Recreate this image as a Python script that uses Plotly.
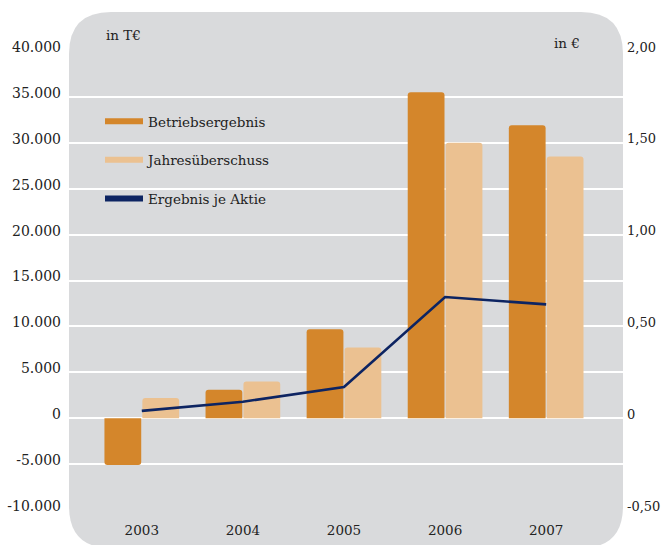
import plotly.graph_objects as go

years = ["2003", "2004", "2005", "2006", "2007"]
betriebsergebnis = [-5100, 3100, 9700, 35500, 31900]
jahresueberschuss = [2200, 4000, 7700, 30000, 28500]
ergebnis_je_aktie = [0.04, 0.09, 0.17, 0.66, 0.62]

left_ticks = [-10000, -5000, 0, 5000, 10000, 15000, 20000, 25000, 30000, 35000, 40000]
left_text = ["-10.000", "-5.000", "0", "5.000", "10.000", "15.000", "20.000",
             "25.000", "30.000", "35.000", "40.000"]
right_ticks = [-0.5, 0, 0.5, 1.0, 1.5, 2.0]
right_text = ["-0,50", "0", "0,50", "1,00", "1,50", "2,00"]

DARK = "#D4862B"
LIGHT = "#EBC191"
NAVY = "#0D2462"
PANEL = "#D9DADC"
FONT = "DejaVu Serif"

fig = go.Figure()
fig.add_trace(go.Bar(x=years, y=betriebsergebnis, marker_color=DARK,
                     marker_line_width=0, showlegend=False))
fig.add_trace(go.Bar(x=years, y=jahresueberschuss, marker_color=LIGHT,
                     marker_line_width=0, showlegend=False))
fig.add_trace(go.Scatter(x=years, y=ergebnis_je_aktie, yaxis="y2", mode="lines",
                         line=dict(color=NAVY, width=2.6, shape="linear"),
                         showlegend=False))

# legend entries drawn as line samples
for name, col in [("Betriebsergebnis", DARK), ("Jahresüberschuss", LIGHT),
                  ("Ergebnis je Aktie", NAVY)]:
    fig.add_trace(go.Scatter(x=[None], y=[None], mode="lines", name=name,
                             legendgroup=name,
                             line=dict(color=col, width=6)))

# rounded grey panel behind the plot
W, H = 665, 545
l, r, t, b = 69, 42, 51, 35
pw, ph = W - l - r, H - t - b


def px(x):
    return (x - l) / pw


def py(y):
    return (H - b - y) / ph


x0, x1, y0, y1, rad = 69, 623, 12, 548, 42
path = (f"M {px(x0)},{py(y0 + rad)} "
        f"Q {px(x0)},{py(y0)} {px(x0 + rad)},{py(y0)} "
        f"L {px(x1 - rad)},{py(y0)} "
        f"Q {px(x1)},{py(y0)} {px(x1)},{py(y0 + rad)} "
        f"L {px(x1)},{py(y1 - rad)} "
        f"Q {px(x1)},{py(y1)} {px(x1 - rad)},{py(y1)} "
        f"L {px(x0 + rad)},{py(y1)} "
        f"Q {px(x0)},{py(y1)} {px(x0)},{py(y1 - rad)} Z")
fig.add_shape(type="path", path=path, xref="paper", yref="paper",
              fillcolor=PANEL, line_width=0, layer="below")

fig.add_annotation(text="in T€", x=px(104), y=py(35), xref="paper", yref="paper",
                   xanchor="left", yanchor="middle", showarrow=False,
                   font=dict(family=FONT, size=13.5, color="#222"))
fig.add_annotation(text="in €", x=px(582), y=py(43), xref="paper", yref="paper",
                   xanchor="right", yanchor="middle", showarrow=False,
                   font=dict(family=FONT, size=13.5, color="#222"))

fig.update_layout(
    width=W, height=H,
    margin=dict(l=l, r=r, t=t, b=b, pad=0, autoexpand=False),
    paper_bgcolor="white", plot_bgcolor="rgba(0,0,0,0)",
    font=dict(family=FONT, size=13, color="#222"),
    barmode="group", bargap=0.25, bargroupgap=0.03, barcornerradius=3,
    xaxis=dict(type="category", range=[-0.72, 4.76], showgrid=False, automargin=False,
               showline=False, ticks="", zeroline=False, ticklabelstandoff=10,
               tickfont=dict(size=13.5)),
    yaxis=dict(range=[-10000, 40000], tickvals=left_ticks, ticktext=left_text,
               showgrid=True, gridcolor="white", gridwidth=1.5, zeroline=False,
               automargin=False, showline=False, ticks="", ticklabelshift=-4,
               ticklabelstandoff=7, tickfont=dict(size=14)),
    yaxis2=dict(range=[-0.5, 2.0], tickvals=right_ticks, ticktext=right_text,
                overlaying="y", side="right", showgrid=False, zeroline=False,
                automargin=False, showline=False, ticks="", ticklabelshift=-4,
                ticklabelstandoff=3, tickfont=dict(size=13)),
    legend=dict(x=px(100), y=py(106), xanchor="left", yanchor="top",
                bgcolor="rgba(0,0,0,0)", traceorder="grouped", tracegroupgap=18,
                itemwidth=38,
                font=dict(family=FONT, size=13.5, color="#222")),
)

fig.write_html("out.html", config={"displayModeBar": False},
               post_script="document.body.style.margin='0px';")
